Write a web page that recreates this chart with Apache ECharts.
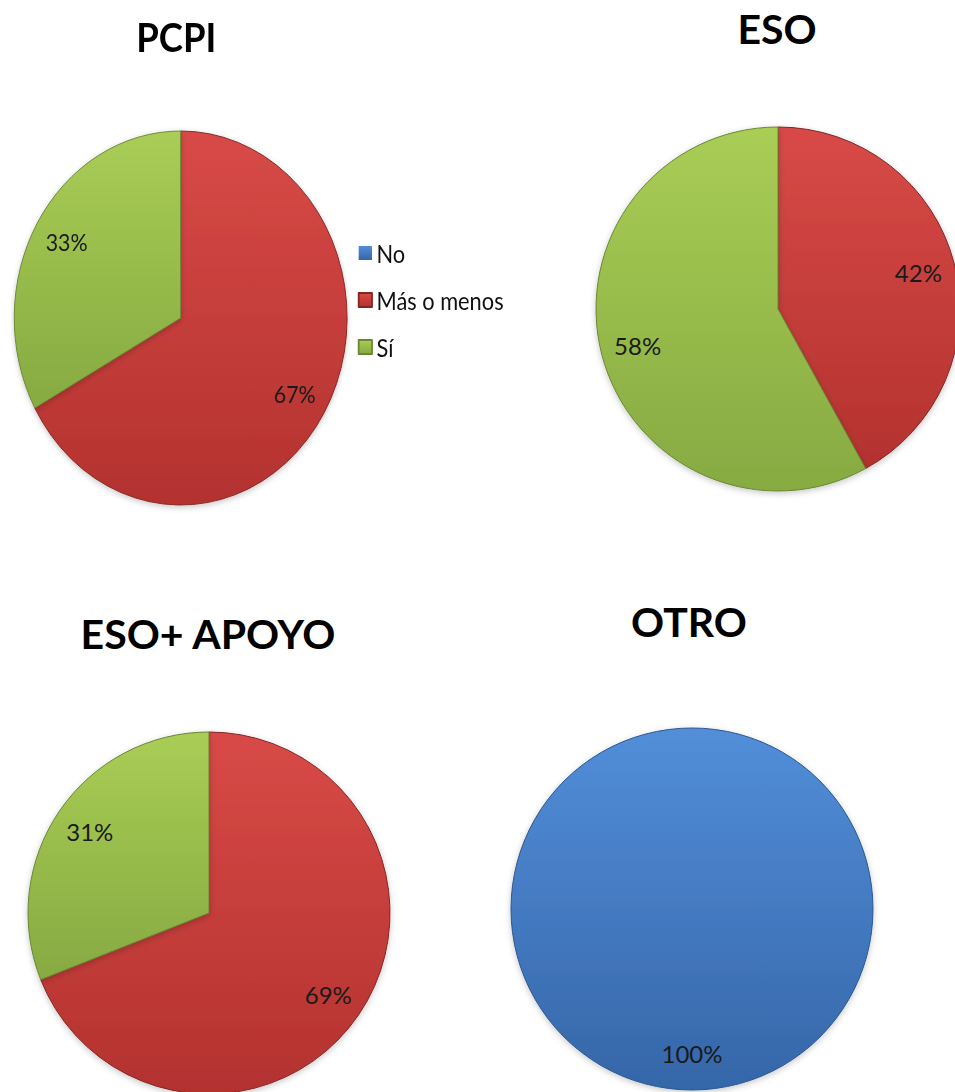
<!DOCTYPE html>
<html lang="es">
<head>
<meta charset="utf-8">
<title>Valoración por tipo de enseñanza</title>
<script src="https://cdn.jsdelivr.net/npm/echarts@6/dist/echarts.min.js"></script>
<style>
  html, body { margin: 0; padding: 0; background: #ffffff; }
  body { width: 955px; height: 1092px; position: relative; overflow: hidden; }
  #main { position: absolute; left: 0; top: 0; width: 955px; height: 1092px; }
  /* the PCPI chart is drawn narrower than it is tall */
  #pcpi { position: absolute; left: 0; top: 0; width: 600px; height: 540px;
          transform: scaleX(0.89); transform-origin: 0 0; }
</style>
</head>
<body>
<div id="main"></div>
<div id="pcpi"></div>
<script>
// Answer categories shared by every chart
const categories = ['No', 'Más o menos', 'Sí'];

// Percentage of answers per group, in the order of `categories`
const pcpiValues = [0, 67, 33];
const esoValues = [0, 42, 58];
const esoApoyoValues = [0, 69, 31];
const otroValues = [100, 0, 0];

// Chart titles
const titles = ['PCPI', 'ESO', 'ESO+ APOYO', 'OTRO'];

// Fill colours: blue (No), red (Más o menos), green (Sí)
const palette = [
  { top: '#528ED9', bottom: '#3566A8', edge: '#2A5690' },
  { top: '#D84A47', bottom: '#B3322F', edge: '#822624' },
  { top: '#A9CD55', bottom: '#87AA42', edge: '#698733' }
];

const labelFont = 'Lato, "Open Sans", sans-serif';

function fill(i) {
  return new echarts.graphic.LinearGradient(0, 0, 0, 1, [
    { offset: 0, color: palette[i].top },
    { offset: 1, color: palette[i].bottom }
  ]);
}

// A pie plus a transparent ring on top of it that carries the percentage labels
function pieSeries(values, center, radius) {
  const data = categories.map((name, i) => ({
    name: name,
    value: values[i],
    itemStyle: {
      color: fill(i),
      borderColor: palette[i].edge,
      borderWidth: values[i] ? 1 : 0
    }
  }));
  const ring = categories.map((name, i) => ({ name: name, value: values[i] }));
  return [
    {
      type: 'pie',
      center: center,
      radius: radius,
      startAngle: 90,
      clockwise: true,
      animation: false,
      label: { show: false },
      labelLine: { show: false },
      emphasis: { disabled: true },
      itemStyle: {
        shadowBlur: 6,
        shadowColor: 'rgba(0,0,0,0.22)',
        shadowOffsetY: 2
      },
      data: data
    },
    {
      type: 'pie',
      center: center,
      radius: [radius * 0.56, radius],
      startAngle: 90,
      clockwise: true,
      animation: false,
      silent: true,
      legendHoverLink: false,
      itemStyle: { color: 'rgba(0,0,0,0)', borderWidth: 0 },
      label: {
        show: true,
        position: 'inside',
        formatter: p => (p.value ? Math.round(p.percent) + '%' : ''),
        color: '#1a1a1a',
        fontFamily: labelFont,
        fontSize: 24
      },
      labelLine: { show: false },
      emphasis: { disabled: true },
      data: ring
    }
  ];
}

function titleText(text, x, y) {
  return {
    type: 'text',
    x: x,
    y: y,
    silent: true,
    style: {
      text: text,
      fill: '#000000',
      font: 'bold 41px ' + labelFont,
      align: 'center',
      verticalAlign: 'middle',
      textAlign: 'center',
      textVerticalAlign: 'middle'
    }
  };
}

// ESO, ESO+ APOYO and OTRO
const main = echarts.init(document.getElementById('main'), null, { renderer: 'svg' });
main.setOption({
  animation: false,
  graphic: [
    titleText(titles[1], 777, 28),
    titleText(titles[2], 208, 633),
    titleText(titles[3], 689, 621)
  ],
  series: [
    ...pieSeries(esoValues, [778, 309], 182),
    ...pieSeries(esoApoyoValues, [209, 913], 181),
    ...pieSeries(otroValues, [692, 909], 181)
  ]
});

// PCPI with the legend
const pcpi = echarts.init(document.getElementById('pcpi'), null, { renderer: 'svg' });
pcpi.setOption({
  animation: false,
  graphic: [titleText(titles[0], 198, 36)],
  legend: {
    orient: 'vertical',
    left: 402,
    top: 240,
    padding: 0,
    itemWidth: 15,
    itemHeight: 14,
    itemGap: 21,
    icon: 'rect',
    selectedMode: false,
    data: categories,
    textStyle: { fontFamily: labelFont, fontSize: 24.5, lineHeight: 26, color: '#111111' }
  },
  series: pieSeries(pcpiValues, [203, 318], 187)
});
</script>
</body>
</html>
